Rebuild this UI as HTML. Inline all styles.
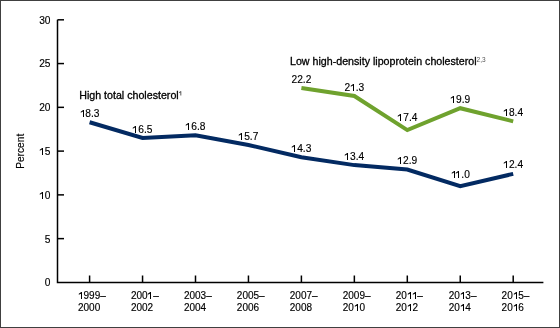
<!DOCTYPE html><html><head><meta charset="utf-8"><style>html,body{margin:0;padding:0;background:#fff}svg{display:block;will-change:transform}text{font-family:"Liberation Sans",sans-serif;fill:#000;stroke:#000;stroke-width:0.15px}.o{fill:transparent!important;stroke:none!important}</style></head><body>
<svg width="560" height="328" viewBox="0 0 560 328">
<rect x="0.5" y="0.5" width="559" height="327" fill="#fff" stroke="#404040" stroke-width="1"/>
<path d="M57.5 19.8 V282.4 H543.4" fill="none" stroke="#000" stroke-width="1.5"/>
<text x="50.5" y="286.30" font-size="10.2" text-anchor="end">0</text>
<path d="M57.5 238.63 H64" stroke="#000" stroke-width="1.5"/>
<text x="50.5" y="242.53" font-size="10.2" text-anchor="end">5</text>
<path d="M57.5 194.87 H64" stroke="#000" stroke-width="1.5"/>
<text x="50.5" y="198.77" font-size="10.2" text-anchor="end"><tspan class="o">1</tspan>0</text>
<path d="M57.5 151.10 H64" stroke="#000" stroke-width="1.5"/>
<text x="50.5" y="155.00" font-size="10.2" text-anchor="end"><tspan class="o">1</tspan>5</text>
<path d="M57.5 107.34 H64" stroke="#000" stroke-width="1.5"/>
<text x="50.5" y="111.24" font-size="10.2" text-anchor="end">20</text>
<path d="M57.5 63.57 H64" stroke="#000" stroke-width="1.5"/>
<text x="50.5" y="67.47" font-size="10.2" text-anchor="end">25</text>
<path d="M57.5 19.81 H64" stroke="#000" stroke-width="1.5"/>
<text x="50.5" y="23.71" font-size="10.2" text-anchor="end">30</text>
<path d="M89.60 275.5 V282.4" stroke="#000" stroke-width="1.5"/>
<text x="78.00" y="298.8" font-size="10"><tspan class="o">1</tspan>999–</text>
<text x="78.00" y="310.7" font-size="10">2000</text>
<path d="M142.55 275.5 V282.4" stroke="#000" stroke-width="1.5"/>
<text x="130.95" y="298.8" font-size="10">200<tspan class="o">1</tspan>–</text>
<text x="130.95" y="310.7" font-size="10">2002</text>
<path d="M195.50 275.5 V282.4" stroke="#000" stroke-width="1.5"/>
<text x="183.90" y="298.8" font-size="10">2003–</text>
<text x="183.90" y="310.7" font-size="10">2004</text>
<path d="M248.45 275.5 V282.4" stroke="#000" stroke-width="1.5"/>
<text x="236.85" y="298.8" font-size="10">2005–</text>
<text x="236.85" y="310.7" font-size="10">2006</text>
<path d="M301.40 275.5 V282.4" stroke="#000" stroke-width="1.5"/>
<text x="289.80" y="298.8" font-size="10">2007–</text>
<text x="289.80" y="310.7" font-size="10">2008</text>
<path d="M354.35 275.5 V282.4" stroke="#000" stroke-width="1.5"/>
<text x="342.75" y="298.8" font-size="10">2009–</text>
<text x="342.75" y="310.7" font-size="10">20<tspan class="o">1</tspan>0</text>
<path d="M407.30 275.5 V282.4" stroke="#000" stroke-width="1.5"/>
<text x="395.70" y="298.8" font-size="10">20<tspan class="o">1</tspan><tspan class="o">1</tspan>–</text>
<text x="395.70" y="310.7" font-size="10">20<tspan class="o">1</tspan>2</text>
<path d="M460.25 275.5 V282.4" stroke="#000" stroke-width="1.5"/>
<text x="448.65" y="298.8" font-size="10">20<tspan class="o">1</tspan>3–</text>
<text x="448.65" y="310.7" font-size="10">20<tspan class="o">1</tspan>4</text>
<path d="M513.20 275.5 V282.4" stroke="#000" stroke-width="1.5"/>
<text x="501.60" y="298.8" font-size="10">20<tspan class="o">1</tspan>5–</text>
<text x="501.60" y="310.7" font-size="10">20<tspan class="o">1</tspan>6</text>
<text transform="translate(23.8 151.3) rotate(-90)" font-size="10.2" text-anchor="middle">Percent</text>
<polyline points="89.60,122.22 142.55,137.98 195.50,135.35 248.45,144.98 301.40,157.23 354.35,165.11 407.30,169.49 460.25,186.12 513.20,173.86" fill="none" stroke="#032a62" stroke-width="4" stroke-linejoin="miter"/>
<polyline points="301.40,88.08 354.35,95.96 407.30,130.10 460.25,108.22 513.20,121.34" fill="none" stroke="#6fa22e" stroke-width="4" stroke-linejoin="miter"/>
<text x="89.60" y="116.82" font-size="10.2" text-anchor="middle"><tspan class="o">1</tspan>8.3</text>
<text x="142.55" y="132.58" font-size="10.2" text-anchor="middle"><tspan class="o">1</tspan>6.5</text>
<text x="195.50" y="129.95" font-size="10.2" text-anchor="middle"><tspan class="o">1</tspan>6.8</text>
<text x="248.45" y="139.58" font-size="10.2" text-anchor="middle"><tspan class="o">1</tspan>5.7</text>
<text x="301.40" y="151.83" font-size="10.2" text-anchor="middle"><tspan class="o">1</tspan>4.3</text>
<text x="354.35" y="159.71" font-size="10.2" text-anchor="middle"><tspan class="o">1</tspan>3.4</text>
<text x="407.30" y="164.09" font-size="10.2" text-anchor="middle"><tspan class="o">1</tspan>2.9</text>
<text x="460.25" y="178.40" font-size="10.2" text-anchor="middle"><tspan class="o">1</tspan><tspan class="o">1</tspan>.0</text>
<text x="513.20" y="168.46" font-size="10.2" text-anchor="middle"><tspan class="o">1</tspan>2.4</text>
<text x="301.40" y="82.68" font-size="10.2" text-anchor="middle">22.2</text>
<text x="354.35" y="90.56" font-size="10.2" text-anchor="middle">2<tspan class="o">1</tspan>.3</text>
<text x="407.50" y="121.00" font-size="10.2" text-anchor="middle"><tspan class="o">1</tspan>7.4</text>
<text x="460.25" y="102.82" font-size="10.2" text-anchor="middle"><tspan class="o">1</tspan>9.9</text>
<text x="513.20" y="115.94" font-size="10.2" text-anchor="middle"><tspan class="o">1</tspan>8.4</text>
<text x="79.2" y="98.7" font-size="10.66" style="stroke-width:0.3px">High total cholesterol<tspan font-size="6.5" dy="-3.1" fill="#333" style="stroke:none"><tspan class="o">1</tspan></tspan></text>
<text x="290.0" y="64.7" font-size="10.66" style="stroke-width:0.3px">Low high-density lipoprotein cholesterol<tspan font-size="6.5" dy="-3.1" fill="#555" style="stroke:none">2,3</tspan></text>
<g><path d="M42.00 199.00H43.00V191.98H42.20L39.76 193.72V194.74L42.00 193.61Z" fill="rgb(0, 0, 0)"/><path d="M42.00 155.00H43.00V147.98H42.20L39.76 149.72V150.74L42.00 149.61Z" fill="rgb(0, 0, 0)"/><path d="M81.00 299.00H82.00V292.12H81.20L78.80 293.82V294.82L81.00 293.72Z" fill="rgb(0, 0, 0)"/><path d="M150.00 299.00H151.00V292.12H150.20L147.80 293.82V294.82L150.00 293.72Z" fill="rgb(0, 0, 0)"/><path d="M357.00 311.00H358.00V304.12H357.20L354.80 305.82V306.82L357.00 305.72Z" fill="rgb(0, 0, 0)"/><path d="M410.00 299.00H411.00V292.12H410.20L407.80 293.82V294.82L410.00 293.72Z" fill="rgb(0, 0, 0)"/><path d="M415.00 299.00H416.00V292.12H415.20L412.80 293.82V294.82L415.00 293.72Z" fill="rgb(0, 0, 0)"/><path d="M410.00 311.00H411.00V304.12H410.20L407.80 305.82V306.82L410.00 305.72Z" fill="rgb(0, 0, 0)"/><path d="M463.00 299.00H464.00V292.12H463.20L460.80 293.82V294.82L463.00 293.72Z" fill="rgb(0, 0, 0)"/><path d="M463.00 311.00H464.00V304.12H463.20L460.80 305.82V306.82L463.00 305.72Z" fill="rgb(0, 0, 0)"/><path d="M516.00 299.00H517.00V292.12H516.20L513.80 293.82V294.82L516.00 293.72Z" fill="rgb(0, 0, 0)"/><path d="M516.00 311.00H517.00V304.12H516.20L513.80 305.82V306.82L516.00 305.72Z" fill="rgb(0, 0, 0)"/><path d="M83.00 117.00H84.00V109.98H83.20L80.76 111.72V112.74L83.00 111.61Z" fill="rgb(0, 0, 0)"/><path d="M135.00 133.00H136.00V125.98H135.20L132.76 127.72V128.74L135.00 127.61Z" fill="rgb(0, 0, 0)"/><path d="M188.00 130.00H189.00V122.98H188.20L185.76 124.72V125.74L188.00 124.61Z" fill="rgb(0, 0, 0)"/><path d="M241.00 140.00H242.00V132.98H241.20L238.76 134.72V135.74L241.00 134.61Z" fill="rgb(0, 0, 0)"/><path d="M294.00 152.00H295.00V144.98H294.20L291.76 146.72V147.74L294.00 146.61Z" fill="rgb(0, 0, 0)"/><path d="M347.00 160.00H348.00V152.98H347.20L344.76 154.72V155.74L347.00 154.61Z" fill="rgb(0, 0, 0)"/><path d="M400.00 164.00H401.00V156.98H400.20L397.76 158.72V159.74L400.00 158.61Z" fill="rgb(0, 0, 0)"/><path d="M454.00 178.00H455.00V170.98H454.20L451.76 172.72V173.74L454.00 172.61Z" fill="rgb(0, 0, 0)"/><path d="M458.00 178.00H459.00V170.98H458.20L455.76 172.72V173.74L458.00 172.61Z" fill="rgb(0, 0, 0)"/><path d="M506.00 168.00H507.00V160.98H506.20L503.76 162.72V163.74L506.00 162.61Z" fill="rgb(0, 0, 0)"/><path d="M353.00 91.00H354.00V83.98H353.20L350.76 85.72V86.74L353.00 85.61Z" fill="rgb(0, 0, 0)"/><path d="M400.00 121.00H401.00V113.98H400.20L397.76 115.72V116.74L400.00 115.61Z" fill="rgb(0, 0, 0)"/><path d="M453.00 103.00H454.00V95.98H453.20L450.76 97.72V98.74L453.00 97.61Z" fill="rgb(0, 0, 0)"/><path d="M506.00 116.00H507.00V108.98H506.20L503.76 110.72V111.74L506.00 110.61Z" fill="rgb(0, 0, 0)"/><path d="M180.45 95.60H181.25V91.13H180.58L179.02 92.23V92.88L180.45 92.17Z" fill="rgb(51, 51, 51)"/></g></svg></body></html>
